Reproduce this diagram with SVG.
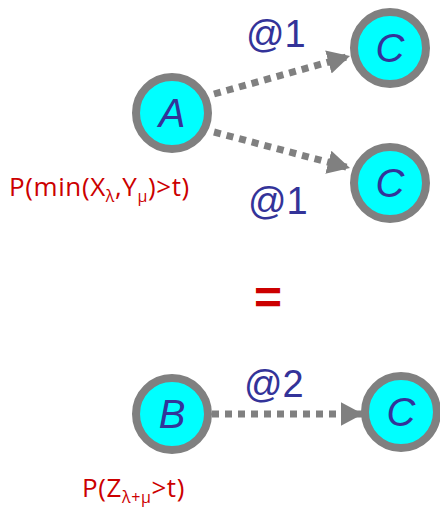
<svg xmlns="http://www.w3.org/2000/svg" width="440" height="510" viewBox="0 0 440 510">
<defs>
<style>
.node circle{fill:#00ffff;stroke:#808080;stroke-width:8}
.node text{font-family:"Liberation Sans",sans-serif;font-style:italic;font-size:40px;fill:#333399;text-anchor:middle}
.edge{stroke:#808080;stroke-width:7;stroke-dasharray:7 6;fill:none}
.lbl{font-family:"Liberation Sans",sans-serif;font-size:38px;fill:#333399}
.red{font-family:"Open Sans",sans-serif;font-size:26px;letter-spacing:0.6px;fill:#cc0000}
.sub{font-size:16px}
</style>
<marker id="ah" markerWidth="3.2" markerHeight="3.4" refX="3.2" refY="1.7" orient="auto" markerUnits="strokeWidth">
<path d="M0,0 L3.2,1.7 L0,3.4 z" fill="#808080"/>
</marker>
</defs>
<g id="connectors">
<line class="edge" x1="214" y1="94" x2="350" y2="56" marker-end="url(#ah)"/>
<line class="edge" x1="214" y1="132" x2="350" y2="168" marker-end="url(#ah)"/>
<line class="edge" x1="212" y1="414" x2="363" y2="414" marker-end="url(#ah)"/>
</g>
<g id="nodeA" class="node"><circle cx="172" cy="113" r="36"/><text x="172" y="127">A</text></g>
<g id="nodeC1" class="node"><circle cx="390" cy="48" r="36"/><text x="390" y="62">C</text></g>
<g id="nodeC2" class="node"><circle cx="390" cy="183" r="36"/><text x="390" y="197">C</text></g>
<g id="nodeB" class="node"><circle cx="172" cy="414" r="36"/><text x="172" y="428">B</text></g>
<g id="nodeC3" class="node"><circle cx="401" cy="412" r="36"/><text x="401" y="426">C</text></g>
<g id="labels">
<text class="lbl" x="246" y="47">@1</text>
<text class="lbl" x="248" y="214">@1</text>
<text class="lbl" x="244" y="397">@2</text>
<text x="268" y="314" text-anchor="middle" style="font-family:'Liberation Sans',sans-serif;font-weight:bold;font-size:48px;fill:#cc0000">=</text>
<text class="red" x="9" y="196">P(min(X<tspan class="sub" dy="6">λ</tspan><tspan dy="-6">,Y</tspan><tspan class="sub" dy="6">μ</tspan><tspan dy="-6">)&gt;t)</tspan></text>
<text class="red" x="82" y="497">P(Z<tspan class="sub" dy="6">λ+μ</tspan><tspan dy="-6">&gt;t)</tspan></text>
</g>
</svg>
